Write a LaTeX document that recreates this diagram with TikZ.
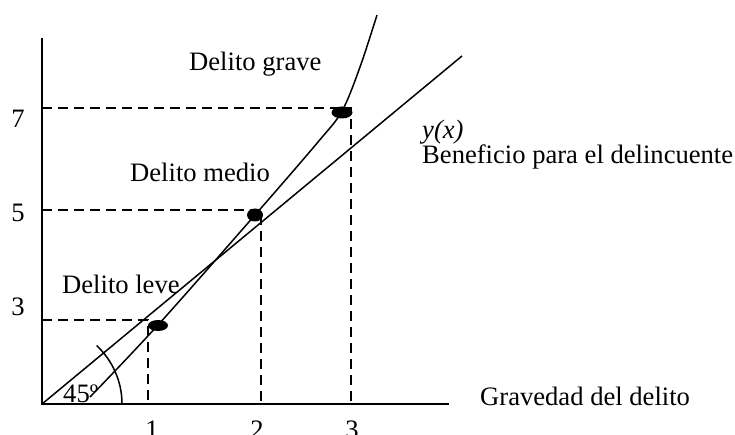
\documentclass[tikz,border=0pt]{standalone}
\usepackage{fontspec}
\setmainfont{Liberation Serif}
\begin{document}
\begin{tikzpicture}[x=1pt,y=-1pt,
  lbl/.style={inner sep=0pt,font=\fontsize{26.6}{32}\selectfont},
  axisline/.style={line width=1.8pt},
  guide/.style={line width=2.6pt,dash pattern=on 10pt off 6pt},
  curveline/.style={line width=1.5pt},
  dotmark/.style={fill=black}]
\useasboundingbox (0,0) rectangle (735,435);
% axes
\coordinate (O) at (42,404);
\coordinate (Ytop) at (42,38);
\coordinate (Xend) at (449,404);
\draw[axisline] (Ytop) -- (O) -- (Xend);
% guides
\coordinate (Y7) at (42,108); \coordinate (P7) at (351,108); \coordinate (X3) at (351,404);
\coordinate (Y5) at (42,210); \coordinate (P5) at (261,210); \coordinate (X2) at (261,404);
\coordinate (Y3) at (42,320); \coordinate (P3) at (148,320); \coordinate (X1) at (148,404);
\draw[guide] (Y7) -- (P7) -- (X3);
\draw[guide] (Y5) -- (P5) -- (X2);
\draw[guide] (Y3) -- (P3) -- (X1);
% straight line y(x)
\coordinate (Lend) at (462,56);
\draw[curveline] (O) -- (Lend);
% convex curve
\draw[curveline] plot[smooth,tension=0.55] coordinates {(90,397) (158,325) (255,215) (318,142) (342,111) (360,67) (377,15)};
% angle arc
\draw[curveline] (O) ++(80,0) arc[start angle=0,end angle=-47,radius=80];
% dots
\fill[dotmark] (158,325.5) ellipse[x radius=10,y radius=5.5];
\fill[dotmark] (255,215) ellipse[x radius=8,y radius=6.5];
\fill[dotmark] (342,112.5) ellipse[x radius=10.5,y radius=6];
% labels
\node[lbl,anchor=base west] (t45) at (63,402) {45º};
\node[lbl,anchor=base west] (tgrave) at (189,71) {Delito grave};
\node[lbl,anchor=base west] (tmedio) at (130,182) {Delito medio};
\node[lbl,anchor=base west] (tleve) at (62,293) {Delito leve};
\node[lbl,anchor=base west] (tyx) at (422,139) {\itshape y(x)};
\node[lbl,anchor=base west] (tben) at (422,164) {Beneficio para el delincuente};
\node[lbl,anchor=base west] (tgrav) at (480,405) {Gravedad del delito};
\node[lbl,anchor=base] (l7) at (18,128) {7};
\node[lbl,anchor=base] (l5) at (18,222) {5};
\node[lbl,anchor=base] (l3) at (18,315) {3};
\node[lbl,anchor=base] (x1) at (152,438) {1};
\node[lbl,anchor=base] (x2) at (257,438) {2};
\node[lbl,anchor=base] (x3) at (352,438) {3};
\end{tikzpicture}
\end{document}
